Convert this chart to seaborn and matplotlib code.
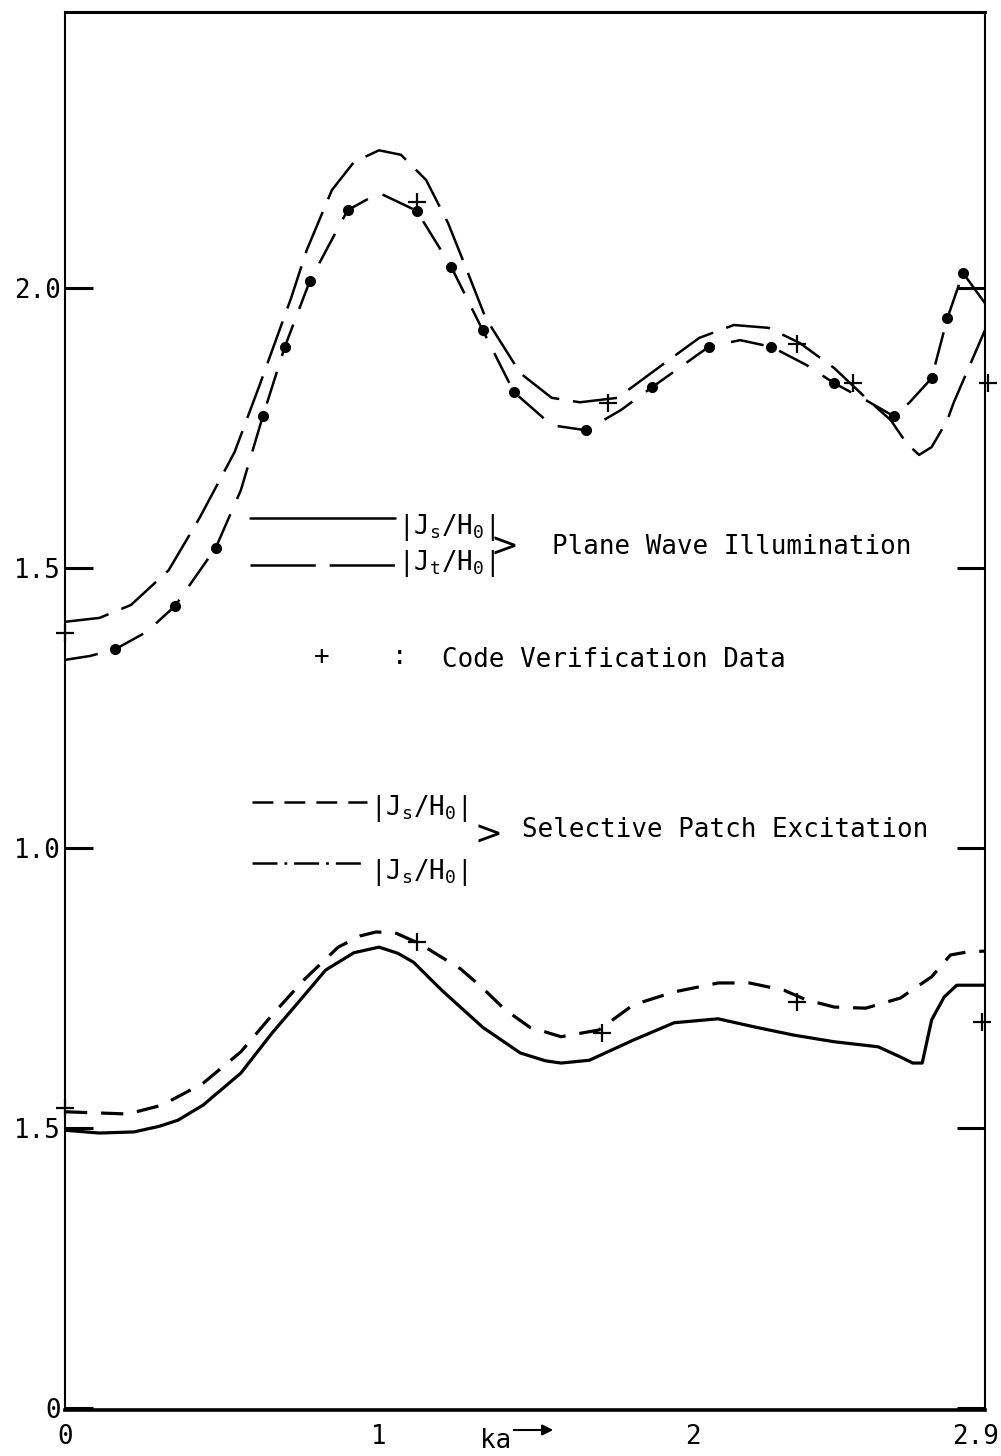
import matplotlib
matplotlib.use("Agg")
import matplotlib.pyplot as plt
import seaborn as sns

# ---- Plane wave illumination: upper curve (long dash) ----
ka_pw_upper = [0.0, 0.11, 0.21, 0.33, 0.43, 0.54, 0.62, 0.66, 0.72, 0.77, 0.85, 0.92, 1.0,
               1.07, 1.15, 1.22, 1.27, 1.34, 1.45, 1.55, 1.64, 1.76, 1.90, 2.02, 2.13, 2.24,
               2.34, 2.45, 2.55, 2.63, 2.68, 2.72, 2.76, 2.81, 2.83, 2.93]
j_pw_upper = [1.404, 1.411, 1.434, 1.496, 1.591, 1.707, 1.827, 1.889, 1.982, 2.068, 2.175, 2.225,
              2.246, 2.238, 2.193, 2.116, 2.046, 1.946, 1.848, 1.804, 1.796, 1.804, 1.862, 1.911,
              1.934, 1.929, 1.902, 1.857, 1.804, 1.764, 1.723, 1.702, 1.716, 1.764, 1.795, 1.925]

# ---- Plane wave illumination: lower curve (dash with dots) ----
ka_pw_lower = [0.0, 0.08, 0.16, 0.26, 0.35, 0.48, 0.56, 0.63, 0.70, 0.78, 0.90, 1.0, 1.12, 1.23,
               1.33, 1.43, 1.55, 1.66, 1.77, 1.87, 1.96, 2.05, 2.15, 2.25, 2.36, 2.45, 2.55, 2.64,
               2.69, 2.76, 2.81, 2.86, 2.93]
j_pw_lower = [1.336, 1.343, 1.355, 1.386, 1.432, 1.536, 1.639, 1.771, 1.895, 2.013, 2.139, 2.170,
              2.138, 2.038, 1.925, 1.814, 1.755, 1.746, 1.782, 1.823, 1.859, 1.895, 1.907, 1.895,
              1.863, 1.830, 1.800, 1.771, 1.796, 1.839, 1.946, 2.027, 1.973]
ka_pw_dots = [0.16, 0.35, 0.48, 0.63, 0.70, 0.78, 0.90, 1.12, 1.23, 1.33, 1.43, 1.66, 1.87, 2.05,
              2.25, 2.45, 2.64, 2.76, 2.81, 2.86]
j_pw_dots = [1.355, 1.432, 1.536, 1.771, 1.895, 2.013, 2.139, 2.138, 2.038, 1.925, 1.814, 1.746,
             1.823, 1.895, 1.895, 1.830, 1.771, 1.839, 1.946, 2.027]

# ---- Selective patch excitation: dashed curve ----
ka_sp_dash = [0.0, 0.20, 0.31, 0.44, 0.56, 0.66, 0.76, 0.87, 0.94, 0.99, 1.05, 1.13, 1.26, 1.33,
              1.40, 1.48, 1.58, 1.70, 1.81, 1.94, 2.08, 2.18, 2.29, 2.36, 2.45, 2.55, 2.66, 2.76,
              2.82, 2.87, 2.93]
j_sp_dash = [0.529, 0.525, 0.541, 0.580, 0.636, 0.702, 0.764, 0.823, 0.843, 0.850, 0.849, 0.829,
             0.784, 0.750, 0.712, 0.680, 0.663, 0.675, 0.720, 0.743, 0.759, 0.759, 0.746, 0.729,
             0.716, 0.714, 0.732, 0.770, 0.809, 0.814, 0.816]

# ---- Selective patch excitation: solid curve ----
ka_sp_solid = [0.0, 0.11, 0.22, 0.30, 0.36, 0.44, 0.56, 0.66, 0.75, 0.83, 0.92, 1.0, 1.06, 1.11,
               1.20, 1.33, 1.45, 1.53, 1.58, 1.67, 1.81, 1.94, 2.08, 2.20, 2.32, 2.45, 2.59, 2.66,
               2.70, 2.73, 2.76, 2.80, 2.84, 2.93]
j_sp_solid = [0.496, 0.491, 0.493, 0.503, 0.514, 0.541, 0.598, 0.670, 0.729, 0.782, 0.813, 0.823,
              0.812, 0.796, 0.746, 0.680, 0.634, 0.620, 0.616, 0.621, 0.657, 0.688, 0.695, 0.680,
              0.666, 0.654, 0.645, 0.627, 0.616, 0.616, 0.693, 0.734, 0.755, 0.755]

# ---- Code verification data (+) ----
ka_verif = [0.0, 1.12, 1.73, 2.33, 2.51, 2.94, 0.0, 1.12, 1.71, 2.33, 2.92]
j_verif = [1.384, 2.154, 1.795, 1.900, 1.830, 1.830, 0.536, 0.832, 0.670, 0.725, 0.689]

x_tick_vals = [0, 1, 2, 2.9]
x_tick_labels = ["0", "1", "2", "2.9"]
y_tick_vals = [0, 0.5, 1.0, 1.5, 2.0]
y_tick_labels = ["0", "1.5", "1.0", "1.5", "2.0"]

sns.set_theme(style="white")
plt.rcParams['font.family'] = ['DejaVu Sans Mono', 'DejaVu Sans']
plt.rcParams['mathtext.fontset'] = 'custom'
plt.rcParams['mathtext.rm'] = 'DejaVu Sans Mono'
plt.rcParams['mathtext.it'] = 'DejaVu Sans Mono'
plt.rcParams['lines.scale_dashes'] = False
plt.rcParams['text.color'] = 'black'
plt.rcParams['axes.labelcolor'] = 'black'

FS = 18.6
W, H = 1001, 1456
fig = plt.figure(figsize=(W / 100, H / 100), dpi=100)
fig.patch.set_facecolor('white')
ax = fig.add_axes([65 / W, 46 / H, 920 / W, 1398 / H])
ax.set_facecolor('white')

# curves
sns.lineplot(x=ka_pw_upper, y=j_pw_upper, ax=ax, color='black', lw=1.8,
             estimator=None, sort=False)
ax.lines[-1].set_dashes([32, 10])
sns.lineplot(x=ka_pw_lower, y=j_pw_lower, ax=ax, color='black', lw=1.8,
             estimator=None, sort=False)
ax.lines[-1].set_dashes([24, 12])
sns.scatterplot(x=ka_pw_dots, y=j_pw_dots, ax=ax, color='black', s=64,
                linewidth=0, zorder=4)
sns.lineplot(x=ka_sp_dash, y=j_sp_dash, ax=ax, color='black', lw=2.3,
             estimator=None, sort=False)
ax.lines[-1].set_dashes([16, 10])
sns.lineplot(x=ka_sp_solid, y=j_sp_solid, ax=ax, color='black', lw=2.3,
             estimator=None, sort=False)
sns.scatterplot(x=ka_verif, y=j_verif, ax=ax, color='black', marker='+', s=170,
                linewidth=1.6, zorder=5, clip_on=False)

ax.set_xlim(0, 2.93)
ax.set_ylim(-0.0036, 2.493)

# legend-like annotations
l1, = ax.plot([0.589, 1.051], [1.589, 1.589], color='black', lw=1.8)
l2, = ax.plot([0.589, 1.051], [1.505, 1.505], color='black', lw=1.8)
l2.set_dashes([47, 10])
ax.text(1.06, 1.573, r"$\mathrm{|J_s/H_0|}$", fontsize=FS, va='center', ha='left')
ax.text(1.06, 1.509, r"$\mathrm{|J_t/H_0|}$", fontsize=FS, va='center', ha='left')
ax.text(1.40, 1.5375, ">", fontsize=24, va='center', ha='center', family='DejaVu Sans')
ax.text(1.551, 1.5375, "Plane Wave Illumination", fontsize=FS, va='center', ha='left')

ax.text(0.818, 1.341, "+", fontsize=FS, va='center', ha='center')
ax.text(1.067, 1.341, ":", fontsize=FS, va='center', ha='center')
ax.text(1.20, 1.336, "Code Verification Data", fontsize=FS, va='center', ha='left')

l3, = ax.plot([0.596, 0.962], [1.082, 1.082], color='black', lw=1.8)
l3.set_dashes([15, 8])
l4, = ax.plot([0.596, 0.962], [0.973, 0.973], color='black', lw=1.8)
l4.set_dashes([18, 5, 2, 5])
ax.text(0.97, 1.071, r"$\mathrm{|J_s/H_0|}$", fontsize=FS, va='center', ha='left')
ax.text(0.97, 0.957, r"$\mathrm{|J_s/H_0|}$", fontsize=FS, va='center', ha='left')
ax.text(1.347, 1.023, ">", fontsize=24, va='center', ha='center', family='DejaVu Sans')
ax.text(1.455, 1.032, "Selective Patch Excitation", fontsize=FS, va='center', ha='left')

# axes styling
for name, sp in ax.spines.items():
    sp.set_visible(True)
    sp.set_color('black')
ax.spines['top'].set_linewidth(2.2)
ax.spines['bottom'].set_linewidth(2.6)
ax.spines['left'].set_linewidth(1.5)
ax.spines['right'].set_linewidth(1.5)

ax.set_xticks(x_tick_vals)
ax.set_xticklabels(x_tick_labels)
ax.set_xticks([1, 2], minor=True)
ax.tick_params(axis='x', which='major', length=0, pad=10, labelsize=FS,
               bottom=True, top=False, colors='black')
ax.tick_params(axis='x', which='minor', direction='in', length=16, width=1.1,
               top=True, bottom=True, color='black')
ax.set_yticks(y_tick_vals)
ax.set_yticklabels(y_tick_labels)
ax.tick_params(axis='y', which='major', direction='in', length=20, width=2.2,
               left=True, right=True, pad=3, labelsize=FS, colors='black')
ax.set_xlabel("")
ax.set_ylabel("")
ax.grid(False)

fig.text(480 / W, 1 - 1441 / H, "ka", fontsize=FS, va='center', ha='left')
ax.annotate("", xy=(556 / W, 1 - 1430 / H), xytext=(511 / W, 1 - 1430 / H),
            xycoords='figure fraction', textcoords='figure fraction',
            arrowprops=dict(arrowstyle='-|>', color='black', lw=1.5, mutation_scale=16))

fig.savefig("out.png", dpi=100, facecolor='white')
